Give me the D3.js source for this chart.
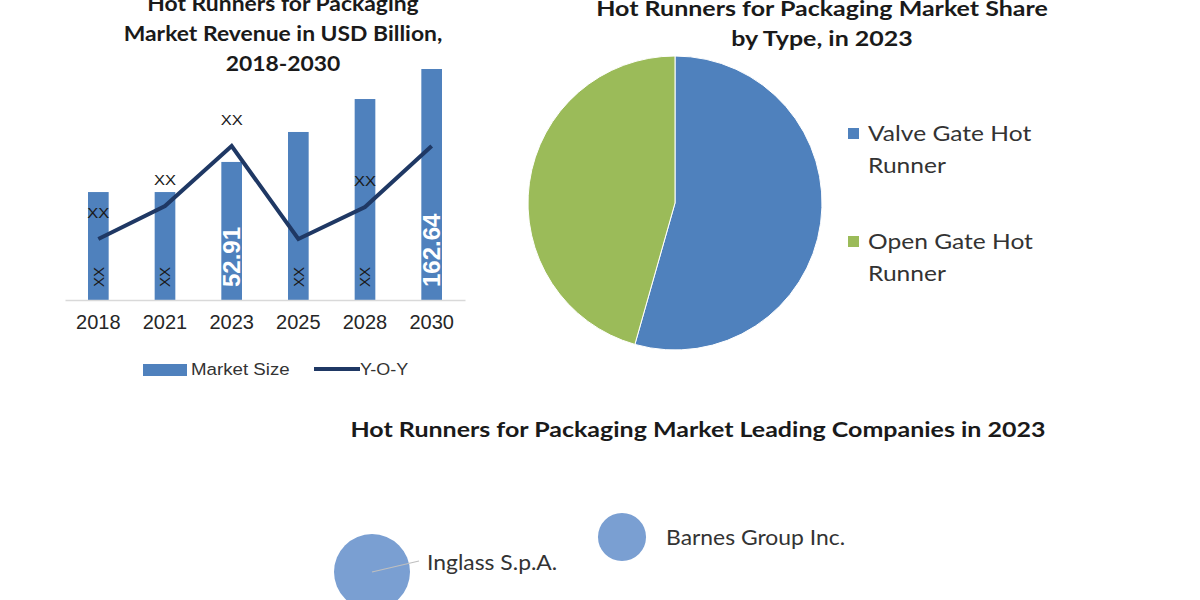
<!DOCTYPE html>
<html>
<head>
<meta charset="utf-8">
<script src="https://cdn.jsdelivr.net/npm/d3@7"></script>
<style>
  body { margin: 0; background: #fff; }
  svg { display: block; }
</style>
</head>
<body>
<svg width="1200" height="600"></svg>
<script>
// bar + line chart
var years = ["2018", "2021", "2023", "2025", "2028", "2030"];
var marketSize = [76.0, 76.0, 97.2, 118.3, 141.5, 162.64];
var sizeLabels = ["XX", "XX", "52.91", "XX", "XX", "162.64"];
var yoy = [6.1, 9.4, 15.4, 6.1, 9.3, 15.4];
var yoyLabels = ["XX", "XX", "XX", "", "XX", ""];

// pie chart
var types = ["Valve Gate Hot Runner", "Open Gate Hot Runner"];
var typeShare = [54.4, 45.6];

// bubble chart
var companies = ["Inglass S.p.A.", "Barnes Group Inc."];
var companyX = [1, 2];
var companyY = [0.5, 1.0];
var companySize = [2.5, 1.0];

var svg = d3.select("svg");
var calibri = "Lato, 'Open Sans', sans-serif";
var arial = "'Liberation Sans', Arial, sans-serif";
var blue = "#4f81bd", green = "#9bbb59", navy = "#1f3864";

// the picture is a bit wider than the fonts we have, so stretch text sideways
function place(x, y, sx) {
    return "translate(" + x + "," + y + ") scale(" + sx + ",1)";
}

// ---------- left: revenue chart ----------
var left = svg.append("g");

var x = d3.scaleBand().domain(years).range([65, 465]).paddingInner(0.69).paddingOuter(0.345);
var y = d3.scaleLinear().domain([0, 162.64]).range([300, 69]);
var y2 = d3.scaleLinear().domain([0, 10]).range([300, 200]);

var titleL = ["Hot Runners for Packaging", "Market Revenue in USD Billion,", "2018-2030"];
left.selectAll("text.title").data(titleL).enter().append("text")
    .attr("transform", function(d, i) { return place(283, 11 + i * 30, 1.09); })
    .attr("text-anchor", "middle")
    .style("font-family", calibri).style("font-weight", "bold").style("font-size", "21px")
    .style("fill", "#1a1a1a")
    .text(function(d) { return d; });

left.selectAll("rect.bar").data(marketSize).enter().append("rect")
    .attr("x", function(d, i) { return x(years[i]); })
    .attr("y", function(d) { return y(d); })
    .attr("width", x.bandwidth())
    .attr("height", function(d) { return 300 - y(d); })
    .attr("fill", blue);

var xAxis = left.append("g").attr("transform", "translate(0,300)")
    .call(d3.axisBottom(x).tickSize(0).tickPadding(10));
xAxis.select(".domain").attr("stroke", "#d9d9d9").attr("stroke-width", 1.5);
xAxis.selectAll("text").style("font-family", arial).style("font-size", "20px").style("fill", "#262626")
    .attr("dy", "0.95em");

// value labels, rotated
left.selectAll("text.val").data(sizeLabels).enter().append("text")
    .attr("transform", function(d, i) {
        return "translate(" + (x(years[i]) + x.bandwidth() / 2) + ",287) rotate(-90)";
    })
    .attr("dy", "0.35em")
    .style("font-family", arial)
    .style("font-size", function(d) { return d == "XX" ? "15px" : "24px"; })
    .style("font-weight", function(d) { return d == "XX" ? "normal" : "bold"; })
    .style("fill", function(d) { return d == "XX" ? "#1a1a1a" : "#fff"; })
    .text(function(d) { return d; });

var line = d3.line()
    .x(function(d, i) { return x(years[i]) + x.bandwidth() / 2; })
    .y(function(d) { return y2(d); });
left.append("path").datum(yoy)
    .attr("d", line).attr("fill", "none")
    .attr("stroke", navy).attr("stroke-width", 4).attr("stroke-linejoin", "miter");

left.selectAll("text.yoy").data(yoyLabels).enter().append("text")
    .attr("transform", function(d, i) { return place(x(years[i]) + x.bandwidth() / 2, y2(yoy[i]) - 21, 1.1); })
    .attr("text-anchor", "middle")
    .style("font-family", arial).style("font-size", "15px").style("fill", "#1a1a1a")
    .text(function(d) { return d; });

// legend
var lg = left.append("g");
lg.append("rect").attr("x", 143).attr("y", 364).attr("width", 44).attr("height", 12).attr("fill", blue);
lg.append("text").attr("transform", place(191, 375, 1.1))
    .style("font-family", arial).style("font-size", "17px").style("fill", "#333")
    .text("Market Size");
lg.append("line").attr("x1", 314).attr("x2", 360).attr("y1", 369).attr("y2", 369)
    .attr("stroke", navy).attr("stroke-width", 4);
lg.append("text").attr("transform", place(360, 375, 1.06))
    .style("font-family", arial).style("font-size", "17px").style("fill", "#333")
    .text("Y-O-Y");

// ---------- right: pie ----------
var right = svg.append("g");
var titleR = ["Hot Runners for Packaging Market Share", "by Type, in 2023"];
right.selectAll("text.title").data(titleR).enter().append("text")
    .attr("transform", function(d, i) { return place(822, 16 + i * 30, 1.19); })
    .attr("text-anchor", "middle")
    .style("font-family", calibri).style("font-weight", "bold").style("font-size", "21px")
    .style("fill", "#1a1a1a")
    .text(function(d) { return d; });

var pie = d3.pie().sort(null);
var arc = d3.arc().innerRadius(0).outerRadius(147);
var pieColors = [blue, green];
right.append("g").attr("transform", "translate(675,203)")
    .selectAll("path").data(pie(typeShare)).enter().append("path")
    .attr("d", arc)
    .attr("fill", function(d, i) { return pieColors[i]; })
    .attr("stroke", "#fff").attr("stroke-width", 1);

var pleg = right.selectAll("g.pleg").data(types).enter().append("g")
    .attr("transform", function(d, i) { return "translate(848," + (128 + i * 108) + ")"; });
pleg.append("rect").attr("width", 11).attr("height", 11)
    .attr("fill", function(d, i) { return pieColors[i]; });
pleg.append("text").attr("transform", place(20, 13, 1.17))
    .style("font-family", calibri).style("font-size", "21px").style("fill", "#333")
    .text(function(d) { return d.replace(" Runner", ""); });
pleg.append("text").attr("transform", place(20, 45, 1.17))
    .style("font-family", calibri).style("font-size", "21px").style("fill", "#333")
    .text("Runner");

// ---------- bottom: bubbles ----------
var bottom = svg.append("g");
bottom.append("text").attr("transform", place(698, 437, 1.19)).attr("text-anchor", "middle")
    .style("font-family", calibri).style("font-weight", "bold").style("font-size", "21px")
    .style("fill", "#1a1a1a")
    .text("Hot Runners for Packaging Market Leading Companies in 2023");

var bx = d3.scaleLinear().domain([0, 4]).range([122, 1122]);
var by = d3.scaleLinear().domain([0, 1]).range([607, 537]);
var br = d3.scaleSqrt().domain([0, 2.5]).range([0, 38]);

var bub = bottom.selectAll("g.bub").data(companies).enter().append("g");
// leader for the big one
bub.filter(function(d, i) { return i == 0; }).append("line")
    .attr("x1", bx(companyX[0]))
    .attr("y1", by(companyY[0]))
    .attr("x2", bx(companyX[0]) + br(companySize[0]) + 9)
    .attr("y2", by(companyY[0]) - 11)
    .attr("stroke", "#bfbfbf").attr("stroke-width", 1.2);
bub.insert("circle", "line")
    .attr("cx", function(d, i) { return bx(companyX[i]); })
    .attr("cy", function(d, i) { return by(companyY[i]); })
    .attr("r", function(d, i) { return br(companySize[i]); })
    .attr("fill", "#7a9fd2");
bub.append("text")
    .attr("transform", function(d, i) {
        return place(bx(companyX[i]) + br(companySize[i]) + (i == 0 ? 17 : 20),
                     by(companyY[i]) + (i == 0 ? -9 : 1) + 7, 1.09);
    })
    .style("font-family", calibri).style("font-size", "21px").style("fill", "#333")
    .text(function(d) { return d; });
</script>
</body>
</html>
